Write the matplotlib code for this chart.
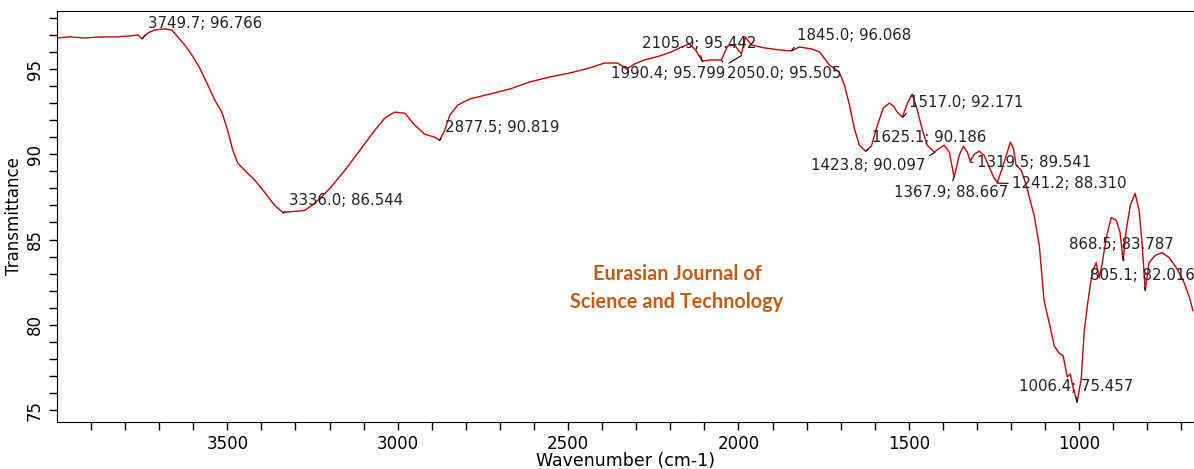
import numpy as np
from matplotlib import pyplot as plt

# FTIR spectrum
wavenumber = [4000, 3962, 3918, 3874, 3830, 3786, 3762, 3751, 3733, 3713, 3683, 3663, 3648, 3625, 3604,
              3581, 3557, 3537, 3516, 3499, 3484, 3469, 3449, 3419, 3390, 3361, 3337, 3302, 3273, 3243,
              3199, 3155, 3111, 3067, 3038, 3009, 2979, 2950, 2921, 2891, 2877, 2862, 2847, 2824, 2789,
              2730, 2672, 2613, 2554, 2496, 2437, 2393, 2355, 2328, 2305, 2276, 2232, 2197, 2167, 2144,
              2126, 2106, 2079, 2050, 2032, 2012, 1991, 1980, 1962, 1924, 1880, 1845, 1821, 1786, 1762,
              1733, 1704, 1689, 1674, 1660, 1645, 1627, 1610, 1592, 1575, 1557, 1545, 1534, 1519, 1504,
              1490, 1475, 1460, 1446, 1425, 1411, 1396, 1381, 1367, 1352, 1340, 1328, 1320, 1308, 1293,
              1279, 1264, 1249, 1240, 1226, 1211, 1202, 1193, 1185, 1170, 1155, 1144, 1132, 1117, 1103,
              1088, 1073, 1059, 1047, 1035, 1026, 1017, 1006, 994, 985, 974, 962, 950, 941, 932,
              921, 906, 891, 880, 871, 862, 850, 836, 824, 815, 806, 795, 777, 757, 736,
              713, 692, 677, 666]
transmittance = [96.82, 96.88, 96.82, 96.88, 96.88, 96.94, 97.0, 96.77, 97.12, 97.29, 97.35, 97.29, 96.94,
                 96.41, 95.82, 95.06, 94.06, 93.18, 92.47, 91.41, 90.24, 89.47, 89.06, 88.47, 87.76, 87.0,
                 86.59, 86.65, 86.71, 87.12, 88.0, 89.06, 90.24, 91.41, 92.12, 92.47, 92.41, 91.71, 91.18,
                 91.0, 90.82, 91.41, 92.29, 92.88, 93.24, 93.53, 93.82, 94.24, 94.53, 94.76, 95.06, 95.35,
                 95.35, 95.0, 95.29, 95.53, 95.76, 96.0, 96.29, 96.47, 96.12, 95.47, 95.53, 95.53, 96.35,
                 96.41, 95.88, 96.88, 96.41, 96.24, 96.12, 96.06, 96.29, 96.18, 96.0, 95.24, 94.82, 94.06,
                 92.88, 91.53, 90.53, 90.18, 90.47, 91.71, 92.71, 93.0, 92.82, 92.47, 92.18, 93.0, 93.53,
                 92.59, 91.41, 90.53, 90.12, 90.35, 90.53, 90.12, 88.65, 89.94, 90.47, 90.12, 89.59, 90.0,
                 90.18, 89.94, 89.24, 88.59, 88.35, 89.18, 90.12, 90.71, 90.35, 89.35, 89.06, 88.18, 87.29,
                 86.41, 84.65, 81.41, 80.12, 78.76, 78.35, 78.18, 76.94, 77.12, 76.24, 75.47, 76.82, 79.65,
                 81.41, 83.06, 83.65, 82.76, 83.65, 85.06, 86.29, 86.12, 85.41, 83.76, 85.53, 87.0, 87.71,
                 86.71, 84.65, 82.0, 83.65, 84.06, 84.24, 83.94, 83.29, 82.47, 81.65, 80.82]

# peak labels: (wavenumber, transmittance) and where the label text starts
peak_wn = [3749.7, 3336.0, 2877.5, 2105.9, 1990.4, 2050.0, 1845.0, 1517.0, 1625.1, 1423.8,
           1319.5, 1367.9, 1241.2, 868.5, 805.1, 1006.4]
peak_t = [96.766, 86.544, 90.819, 95.442, 95.799, 95.505, 96.068, 92.171, 90.186, 90.097,
          89.541, 88.667, 88.310, 83.787, 82.016, 75.457]
label_wn = [3733, 3320, 2862, 2282, 2375, 2035, 1827, 1498, 1607, 1786,
            1299, 1542, 1196, 1029, 968, 1176]
label_t = [97.65, 87.29, 91.59, 96.47, 94.76, 94.76, 96.94, 93.06, 91.0, 89.35,
           89.53, 87.76, 88.29, 84.71, 82.88, 76.41]
# side of the label box the leader line attaches to
leader_side = [(0, 0), (0, 0), (0, 0), (0.5, 0), (1, 1), (0, 1), (0, 0), (0, 0), (0, 0), (1, 1),
               (0, 0.5), (0.5, 1), (0, 0.5), (0.5, 0), (0.5, 0), (0.5, 0)]

fig = plt.figure(figsize=(11.94, 4.69), dpi=100)
ax = fig.add_axes([0.0477, 0.1002, 0.9523, 0.8763])

ax.plot(wavenumber, transmittance, color='#c80000', lw=1.0)

for w, t, lw_, lt, side in zip(peak_wn, peak_t, label_wn, label_t, leader_side):
    ax.annotate('{:.1f}; {:.3f}'.format(w, t), xy=(w, t), xytext=(lw_, lt),
                fontsize=10.8, color='#222222', va='center', ha='left',
                arrowprops=dict(arrowstyle='-', color='k', lw=0.8, shrinkA=1, shrinkB=0,
                                relpos=side))

ax.set_xlim(4000, 663)
ax.set_ylim(74.3, 98.4)
ax.set_xticks([3500, 3000, 2500, 2000, 1500, 1000])
ax.set_xticks(np.arange(700, 4000, 100), minor=True)
ax.set_yticks([75, 80, 85, 90, 95])
ax.set_yticks(np.arange(75, 99, 1), minor=True)
ax.tick_params(which='both', direction='out', length=6, width=1, labelsize=12)
plt.setp(ax.get_yticklabels(), rotation=90, va='center')
ax.spines['right'].set_visible(False)

ax.set_xlabel('Wavenumber (cm-1)', fontsize=12.5, labelpad=-1)
ax.set_ylabel('Transmittance', fontsize=12, labelpad=2)

fig.text(0.567, 0.386, 'Eurasian Journal of\nScience and Technology', ha='center', va='center',
         fontsize=14.3, fontweight='bold', family='Lato', color='#c55a11', linespacing=1.45)

plt.savefig('out.png', dpi=100)
plt.close()
